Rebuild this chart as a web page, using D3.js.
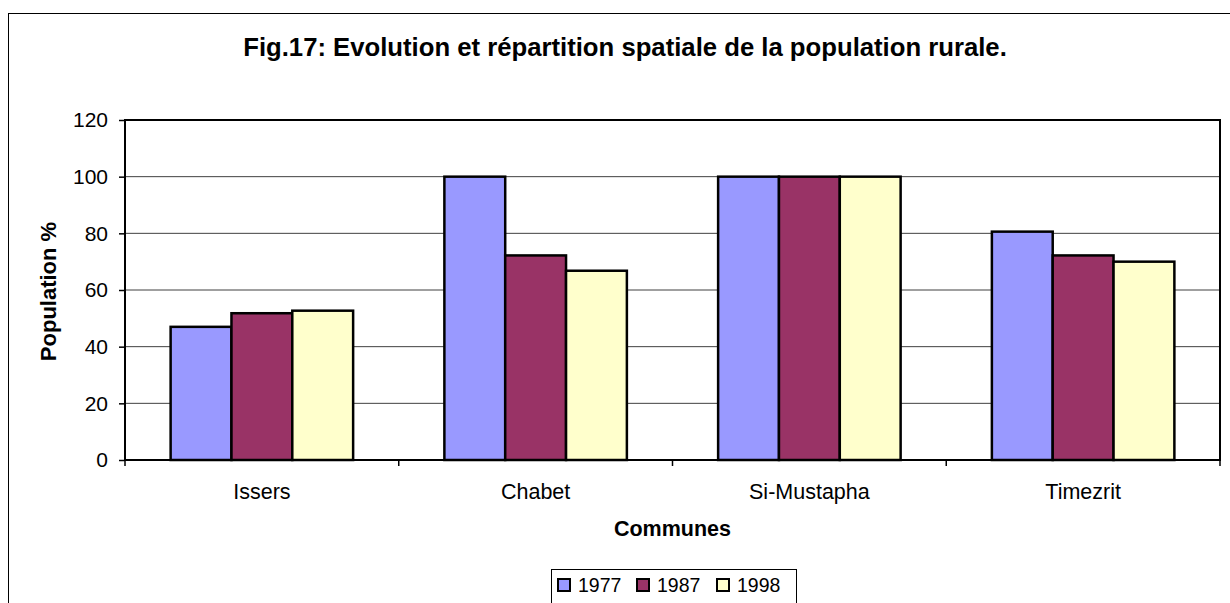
<!DOCTYPE html>
<html><head><meta charset="utf-8">
<script src="https://cdn.jsdelivr.net/npm/d3@7"></script>
<style>body{margin:0;background:#fff;}svg{display:block;}text{font-family:Arial,"Liberation Sans",sans-serif;}</style>
</head><body>
<svg id="c" width="1230" height="603"></svg>
<script>
const categories = ["Issers", "Chabet", "Si-Mustapha", "Timezrit"];
const seriesNames = ["1977", "1987", "1998"];
const values1977 = [47.0, 100, 100, 80.6];
const values1987 = [51.8, 72.2, 100, 72.2];
const values1998 = [52.7, 66.8, 100, 70.0];
const yTicks = [0, 20, 40, 60, 80, 100, 120];
const colors = ["#9999FF", "#993366", "#FFFFCC"];
const title = "Fig.17: Evolution et répartition spatiale de la population rurale.";
const xTitle = "Communes";
const yTitle = "Population %";

const seriesVals = [values1977, values1987, values1998];
const svg = d3.select("#c");
const L = 125, R = 1220, T = 120, B = 460;

// outer frame
svg.append("rect").attr("x", 8.5).attr("y", 13.5).attr("width", 1300).attr("height", 700)
  .attr("fill", "#fff").attr("stroke", "#000").attr("stroke-width", 1);

const x = d3.scaleBand().domain(categories).range([L, R]).paddingInner(0).paddingOuter(0);
const bw = x.bandwidth() / 4.5;
const xs = d3.scaleBand().domain(seriesNames).range([0.75 * bw, 3.75 * bw]);
const y = d3.scaleLinear().domain([0, 120]).range([B, T]);

// gridlines
svg.append("g").selectAll("line").data(yTicks.filter(d => d > 0 && d < 120)).join("line")
  .attr("x1", L).attr("x2", R).attr("y1", d => y(d)).attr("y2", d => y(d))
  .attr("stroke", "#404040").attr("stroke-width", 1);

// bars
const g = svg.append("g");
categories.forEach((c, i) => {
  seriesNames.forEach((s, j) => {
    const v = seriesVals[j][i];
    g.append("rect")
      .attr("x", x(c) + xs(s)).attr("width", xs.bandwidth())
      .attr("y", y(v)).attr("height", y(0) - y(v))
      .attr("fill", colors[j]).attr("stroke", "#000").attr("stroke-width", 2.5);
  });
});

// plot border
svg.append("rect").attr("x", L).attr("y", T).attr("width", R - L).attr("height", B - T)
  .attr("fill", "none").attr("stroke", "#000").attr("stroke-width", 2);

// y axis
const yAxis = d3.axisLeft(y).tickValues(yTicks).tickSize(6).tickPadding(11).tickFormat(d3.format("d"));
const ya = svg.append("g").attr("transform", `translate(${L},0)`).call(yAxis);
ya.select(".domain").remove();
ya.selectAll("line").attr("stroke", "#000").attr("stroke-width", 1.5);
ya.selectAll("text").attr("font-size", 21).attr("fill", "#000").style("font-family", "Arial, 'Liberation Sans', sans-serif");

// x axis ticks at boundaries
const bounds = categories.map(c => x(c)).concat([R]);
svg.append("g").selectAll("line").data(bounds).join("line")
  .attr("x1", d => d).attr("x2", d => d).attr("y1", B).attr("y2", B + 6)
  .attr("stroke", "#000").attr("stroke-width", 1.5);
svg.append("g").selectAll("text").data(categories).join("text")
  .attr("x", d => x(d) + x.bandwidth() / 2).attr("y", 499)
  .attr("text-anchor", "middle").attr("font-size", 21.5).text(d => d);

// titles
svg.append("text").attr("x", 625).attr("y", 56).attr("text-anchor", "middle")
  .attr("font-size", 25.7).attr("font-weight", "bold").text(title);
svg.append("text").attr("x", (L + R) / 2).attr("y", 536).attr("text-anchor", "middle")
  .attr("font-size", 21.5).attr("font-weight", "bold").text(xTitle);
svg.append("text").attr("transform", "translate(56,291.5) rotate(-90)").attr("text-anchor", "middle")
  .attr("font-size", 22).attr("font-weight", "bold").text(yTitle);

// legend
const lg = svg.append("g");
lg.append("rect").attr("x", 551.5).attr("y", 569.5).attr("width", 245).attr("height", 60)
  .attr("fill", "#fff").attr("stroke", "#000").attr("stroke-width", 1);
const legX = [558, 637, 717];
seriesNames.forEach((s, j) => {
  lg.append("rect").attr("x", legX[j]).attr("y", 579).attr("width", 12).attr("height", 12)
    .attr("fill", colors[j]).attr("stroke", "#000").attr("stroke-width", 2);
  lg.append("text").attr("x", legX[j] + 20).attr("y", 592).attr("font-size", 19.5).text(s);
});
</script>
</body></html>
